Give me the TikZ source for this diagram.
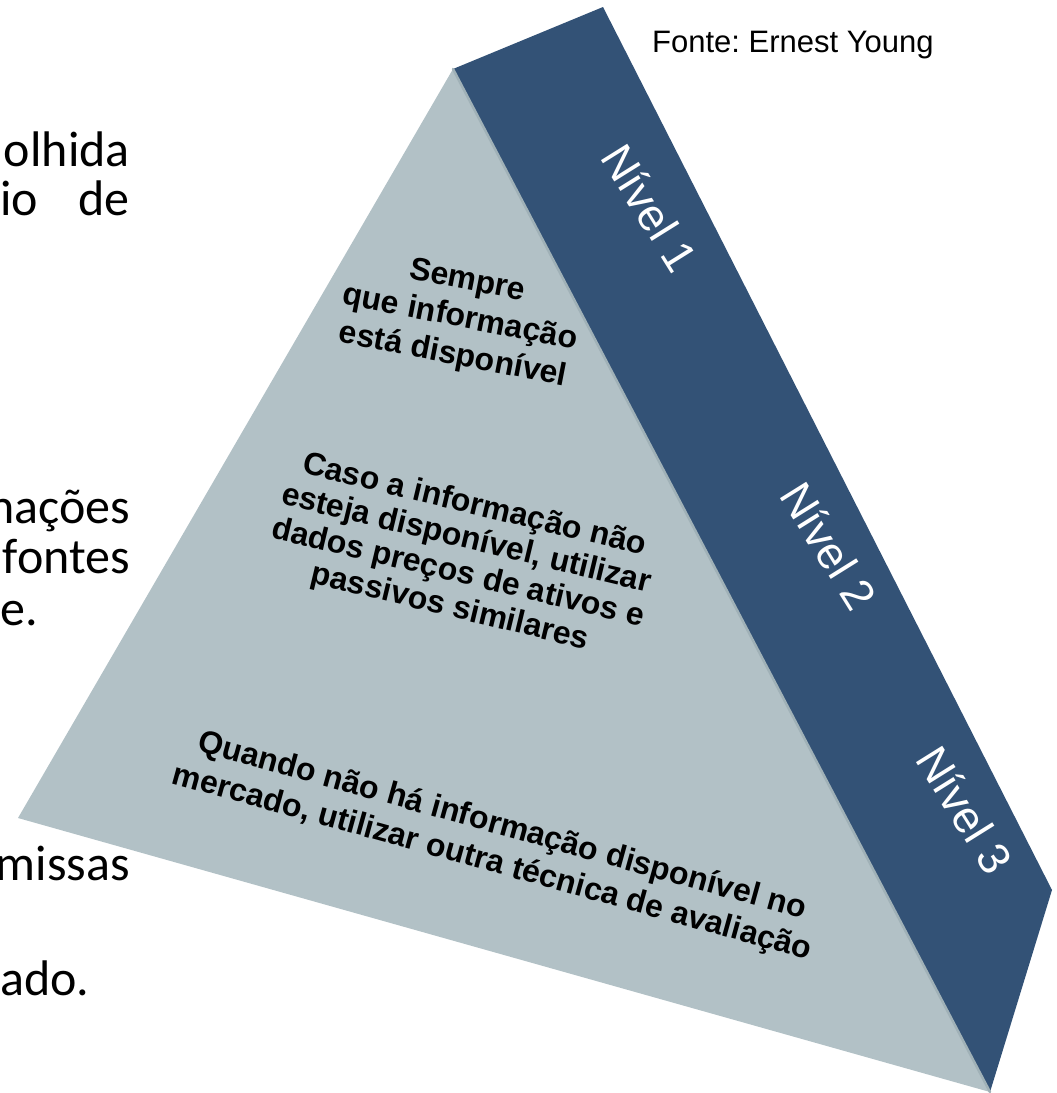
\documentclass[tikz,border=0pt]{standalone}
\usepackage{fontspec}
\setmainfont{Liberation Sans}
\newfontfamily\slidefont{Carlito}
\usepackage{xcolor}
\usetikzlibrary{calc}
\frenchspacing
\definecolor{band}{HTML}{335276}
\definecolor{face}{HTML}{B2C1C6}
\definecolor{faceedge}{HTML}{A0B1B7}
\definecolor{ink}{HTML}{000000}
\tikzset{
  bandfill/.style={fill=band, draw=none},
  facefill/.style={fill=face, draw=none},
  rim/.style={draw=faceedge, line width=2.5pt, line cap=round},
  lvl/.style={text=white, font=\fontsize{45}{50}\selectfont, inner sep=0pt},
  tri/.style={text=ink, font=\bfseries\fontsize{32}{35}\selectfont, align=center, inner sep=0pt},
  side/.style={text=ink, font=\slidefont\fontsize{50}{60}\selectfont, inner sep=0pt},
  src/.style={text=ink, font=\fontsize{31}{36}\selectfont, inner sep=0pt},
}

\begin{document}
\begin{tikzpicture}[x=1pt,y=1pt]
  \useasboundingbox (0,0) rectangle (1057,-1093);
  % slide text behind the pyramid
  \node[side, anchor=base east] (olhida) at (130,-166) {olhida};
  \node[side, anchor=base west] (io) at (0,-215) {io};
  \node[side, anchor=base east] (de) at (130,-215) {de};
  \node[side, anchor=base east] (nacoes) at (130,-523) {nações};
  \node[side, anchor=base east] (fontes) at (130,-573) {fontes};
  \node[side, anchor=base west] (ponto) at (0,-625) {e.};
  \node[side, anchor=base east] (missas) at (130,-880) {missas};
  \node[side, anchor=base west] (ado) at (0,-995) {ado.};
  % pyramid
  \coordinate (apex) at (453,-69);
  \coordinate (back) at (603,-7);
  \coordinate (tip) at (1052,-890);
  \coordinate (foot) at (990,-1092);
  \coordinate (left) at (18,-818);
  \fill[bandfill] (apex) -- (back) -- (tip) -- (foot) -- cycle;
  \fill[facefill] (apex) -- (left) -- (foot) -- cycle;
  \draw[rim] (apex) -- (foot);
  % levels
  \node[lvl, rotate=-58] (n1) at (650,-208) {Nível 1};
  \node[lvl, rotate=-58] (n2) at (829,-546) {Nível 2};
  \node[lvl, rotate=-58] (n3) at (965,-810) {Nível 3};
  \node[tri, font=\bfseries\fontsize{32}{38}\selectfont, rotate=-11] (top) at (460,-319)
    {Sempre\\que informação\\está disponível};
  \node[tri, rotate=-13.5] (mid) at (462,-557)
    {Caso a informação não\\esteja disponível, utilizar\\dados preços de ativos e\\passivos similares};
  \node[tri, font=\bfseries\fontsize{32}{38}\selectfont, rotate=-15.5] (low) at (497,-845)
    {Quando não há informação disponível no\\mercado, utilizar outra técnica de avaliação};
  \node[src, anchor=base west] (fonte) at (652,-52) {Fonte: Ernest Young};
\end{tikzpicture}
\end{document}
